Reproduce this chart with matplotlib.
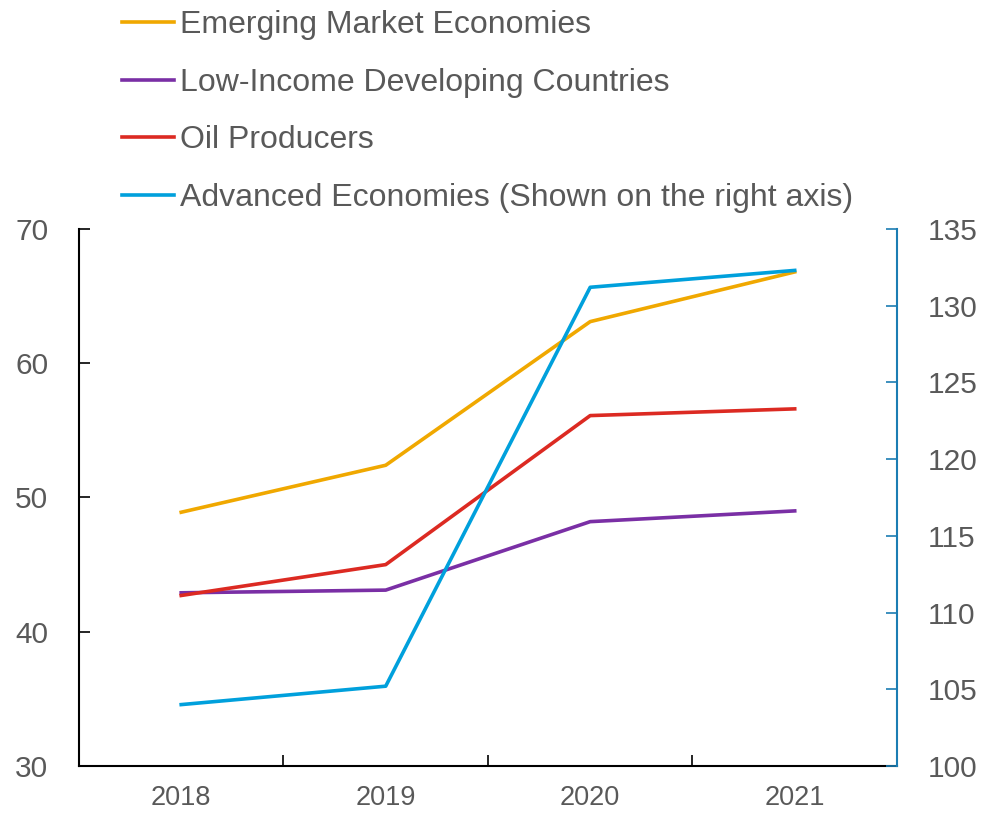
import matplotlib.pyplot as plt
from matplotlib.ticker import FixedLocator, NullFormatter

plt.rcParams['font.family'] = ['Liberation Sans', 'DejaVu Sans']

# Data
years = ["2018", "2019", "2020", "2021"]
emerging = [48.9, 52.4, 63.1, 66.8]
low_income = [42.9, 43.1, 48.2, 49.0]
oil = [42.7, 45.0, 56.1, 56.6]
advanced = [104.0, 105.2, 131.2, 132.3]   # right axis

left_ticks = [30, 40, 50, 60, 70]
right_ticks = [100, 105, 110, 115, 120, 125, 130, 135]

text_grey = "#595959"
c_em = "#f0a800"
c_li = "#7a2fa5"
c_oil = "#dc2a22"
c_adv = "#00a0dc"
c_rspine = "#1b7db3"

fig = plt.figure(figsize=(9.82, 8.14), dpi=100)
ax = fig.add_axes([0.0804, 0.059, 0.833, 0.6597])
ax2 = ax.twinx()

x = list(range(len(years)))
l1, = ax.plot(x, emerging, color=c_em, lw=2.6, label="Emerging Market Economies")
l2, = ax.plot(x, low_income, color=c_li, lw=2.6, label="Low-Income Developing Countries")
l3, = ax.plot(x, oil, color=c_oil, lw=2.6, label="Oil Producers")
l4, = ax2.plot(x, advanced, color=c_adv, lw=2.6,
               label="Advanced Economies (Shown on the right axis)")

ax.set_xlim(-0.5, len(years) - 0.5)
ax.set_ylim(30, 70)
ax2.set_ylim(100, 135)

ax.set_xticks(x)
ax.set_xticklabels(years)
ax.xaxis.set_minor_locator(FixedLocator([0.5, 1.5, 2.5]))
ax.xaxis.set_minor_formatter(NullFormatter())
ax.tick_params(axis="x", which="major", length=0, pad=14, labelsize=19.5, labelcolor=text_grey)
ax.tick_params(axis="x", which="minor", direction="in", length=8, width=1.2, color="black")

ax.set_yticks(left_ticks)
ax.tick_params(axis="y", direction="in", length=8, width=1.2, pad=22,
               labelsize=21.5, labelcolor=text_grey)

ax2.set_yticks(right_ticks)
ax2.tick_params(axis="y", direction="in", length=8, width=1.2, color=c_rspine, pad=22,
                labelsize=21.5, labelcolor=text_grey)

ax.spines["top"].set_visible(False)
ax2.spines["top"].set_visible(False)
ax.spines["right"].set_visible(False)
ax2.spines["left"].set_visible(False)
ax2.spines["bottom"].set_visible(False)
ax.spines["left"].set_linewidth(1.5)
ax.spines["bottom"].set_linewidth(1.5)
ax2.spines["right"].set_color(c_rspine)
ax2.spines["right"].set_linewidth(1.5)

fig.legend(handles=[l1, l2, l3, l4], loc="upper left", bbox_to_anchor=(0.111, 1.003),
           frameon=False, fontsize=23, labelcolor=text_grey, handlelength=1.63,
           handletextpad=0.19, labelspacing=0.86, borderaxespad=0)

fig.savefig("out.png", dpi=100)
